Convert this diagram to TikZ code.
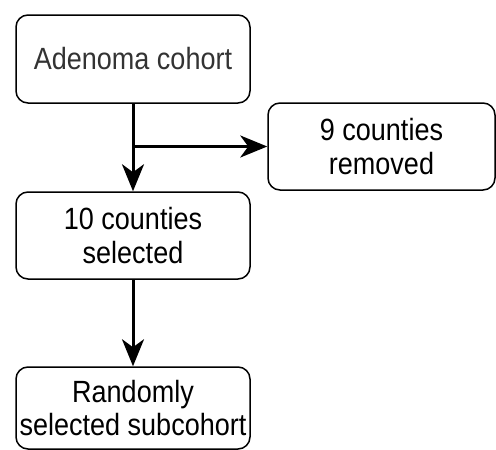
\documentclass[tikz,border=0pt]{standalone}
\usepackage{fontspec}
\setmainfont[FakeStretch=0.88]{Liberation Sans}
\usetikzlibrary{arrows.meta}
\begin{document}
\begin{tikzpicture}[x=1pt,y=-1pt,
  flowbox/.style={draw=black, line width=1.5pt, rounded corners=12pt, fill=white,
    align=center, inner sep=0pt, font=\fontsize{30.7}{33.5}\selectfont},
  flowarrow/.style={line width=3pt, -{Stealth[length=27pt,width=22pt,inset=8pt]}}]
  \useasboundingbox (0,0) rectangle (496,450);

  \node[flowbox, minimum width=234pt, minimum height=88pt, text=black!80] (cohort) at (133,59) {Adenoma cohort};
  \node[flowbox, minimum width=227pt, minimum height=87pt] (removed) at (381.5,146.5) {9 counties\\removed};
  \node[flowbox, minimum width=234pt, minimum height=87pt] (selected) at (133,235.5) {10 counties\\selected};
  \node[flowbox, minimum width=234pt, minimum height=82pt] (subcohort) at (133,408) {Randomly\\selected subcohort};

  \coordinate (split) at (cohort.south |- removed.west);

  \draw[flowarrow] (cohort.south) -- (selected.north);
  \draw[flowarrow] (split) -- (removed.west);
  \draw[flowarrow] (selected.south) -- (subcohort.north);
\end{tikzpicture}
\end{document}
